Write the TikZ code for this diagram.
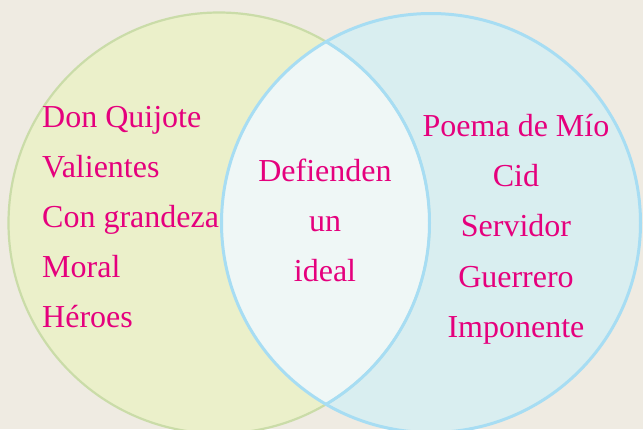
\documentclass[tikz,border=0pt]{standalone}
\usepackage{fontspec}
\setmainfont{Liberation Serif}
\usepackage{xcolor}

\definecolor{paper}{HTML}{EFEBE2}
\definecolor{leftfill}{HTML}{EBF0CA}
\definecolor{leftline}{HTML}{CADCA8}
\definecolor{rightfill}{HTML}{D9EEF0}
\definecolor{rightline}{HTML}{A7DDF3}
\definecolor{lensfill}{HTML}{EFF7F6}
\definecolor{textpink}{HTML}{E5007D}

\begin{document}
\begin{tikzpicture}[x=1pt, y=-1pt,
    word/.style={text=textpink, font=\fontsize{32}{32}\selectfont, inner sep=0pt, anchor=base},
    leftword/.style={word, anchor=base west}]
    \useasboundingbox (0,0) rectangle (643,429);
    \fill[paper] (0,0) rectangle (643,429);

    % the two sets
    \fill[leftfill] (219,223) circle (210.5pt);
    \fill[rightfill] (431,223) circle (209.5pt);
    \begin{scope}
        \clip (219,223) circle (210.5pt);
        \fill[lensfill] (431,223) circle (209.5pt);
    \end{scope}
    \draw[leftline, line width=2.2pt] (219,223) circle (210.5pt);
    \draw[rightline, line width=3pt] (431,223) circle (209.5pt);

    % lens outline (left arc inside the right set is blue too)
    \begin{scope}
        \clip (431,223) circle (209.5pt);
        \draw[rightline, line width=3pt] (219,223) circle (210.5pt);
    \end{scope}

    % left set
    \node[leftword] (donquijote) at (42,127) {Don Quijote};
    \node[leftword] (valientes) at (42,177) {Valientes};
    \node[leftword] (grandeza) at (42,227) {Con grandeza};
    \node[leftword] (moral) at (42,277.5) {Moral};
    \node[leftword] (heroes) at (42,327.5) {Héroes};

    % both sets
    \node[word] (defienden) at (325,181) {Defienden};
    \node[word] (un) at (325,231.5) {un};
    \node[word] (ideal) at (325,281.5) {ideal};

    % right set
    \node[word] (poema) at (516,136) {Poema de Mío};
    \node[word] (cid) at (516,186) {Cid};
    \node[word] (servidor) at (516,236.5) {Servidor};
    \node[word] (guerrero) at (516,287) {Guerrero};
    \node[word] (imponente) at (516,337) {Imponente};
\end{tikzpicture}
\end{document}
